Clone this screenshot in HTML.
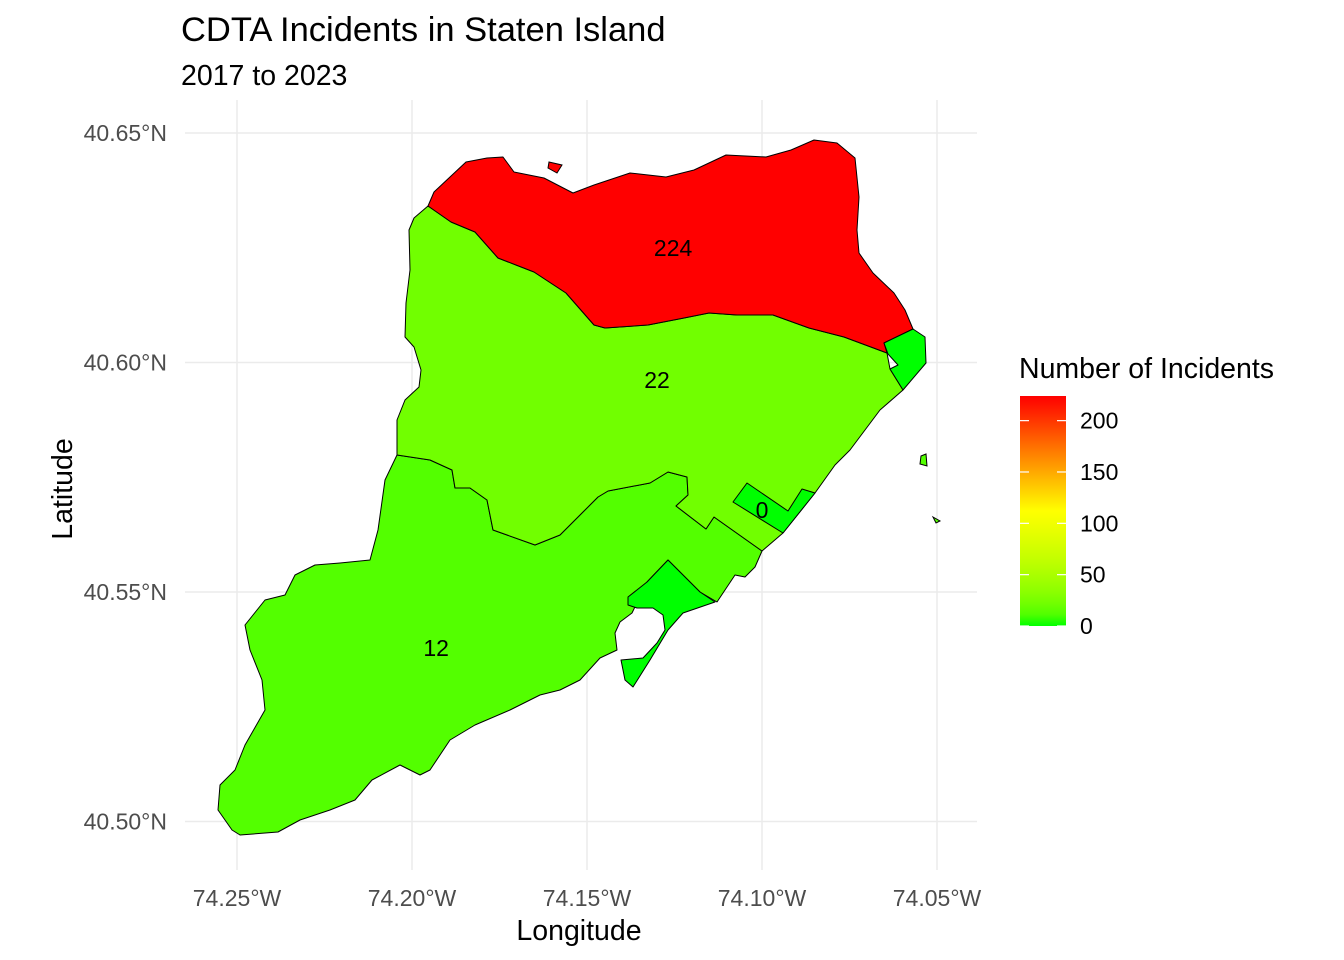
<!DOCTYPE html>
<html><head><meta charset="utf-8"><style>
body{margin:0;background:#fff;}
svg{display:block;font-family:"Liberation Sans",Arial,sans-serif;}
</style></head><body>
<svg id="chart" width="1344" height="960" viewBox="0 0 1344 960" xmlns="http://www.w3.org/2000/svg">
<text x="181" y="41" font-size="34.5" fill="#000">CDTA Incidents in Staten Island</text>
<text x="181" y="85" font-size="28.5" fill="#000">2017 to 2023</text>
<g id="grid"></g>
<g id="map"></g>
<g id="labels"></g>
<g id="axes"></g>
<text x="579" y="940" font-size="28.5" text-anchor="middle" fill="#000">Longitude</text>
<text transform="translate(72,489) rotate(-90)" font-size="28.5" text-anchor="middle" fill="#000">Latitude</text>
<g id="legend">
<defs><linearGradient id="lg" x1="0" y1="1" x2="0" y2="0"></linearGradient></defs>
<text x="1019" y="378" font-size="28.5" fill="#000">Number of Incidents</text>
</g>
</svg>
<script>
const lonTicks=[-74.25,-74.20,-74.15,-74.10,-74.05];
const lonLabels=["74.25°W","74.20°W","74.15°W","74.10°W","74.05°W"];
const latTicks=[40.65,40.60,40.55,40.50];
const latLabels=["40.65°N","40.60°N","40.55°N","40.50°N"];
const regionNames=["south-shore","mid-island","north-shore","great-kills","fort-wadsworth","midland-beach"];
const regionValues=[12,22,224,0,0,0];
const labelValues=[224,22,12,0];
const labelLon=[-74.1254,-74.130,-74.1931,-74.100];
const labelLat=[40.625,40.5962,40.5378,40.5679];
const legendTicks=[0,50,100,150,200];
const vmax=224, vmid=112;

const X=lon=>237+(lon+74.25)*3500;
const Y=lat=>133+(40.65-lat)*4590;
const LY=v=>626-v/vmax*230;
function color(v){
  let r,g;
  if(v<=vmid){r=255*Math.sqrt(v/vmid);g=255;}
  else{r=255;g=255*(1-(v-vmid)/(vmax-vmid));}
  return `rgb(${Math.round(r)},${Math.round(g)},0)`;
}
const NS="http://www.w3.org/2000/svg";
function mk(tag,attrs,parent){const e=document.createElementNS(NS,tag);for(const k in attrs)e.setAttribute(k,attrs[k]);parent.appendChild(e);return e;}

const shapes={
"south-shore":"397,455 385,480 378,530 370,560 340,563 315,565 295,575 285,595 265,600 245,625 250,650 262,680 265,710 245,745 235,770 220,785 218,810 232,830 240,835 278,832 300,820 330,810 355,800 372,780 400,765 420,775 430,770 450,740 475,725 510,710 540,695 560,690 580,680 600,658 617,650 615,633 620,622 632,613 647,582 668,560 700,592 717,602 735,575 745,577 755,567 762,551 714,517 706,529 676,506 688,495 687,477 668,472 650,483 608,491 598,497 580,515 560,535 535,545 493,530 487,500 470,488 455,488 452,470 430,460",
"mid-island":"428,206 451,222 475,232 498,258 516,265 534,272 566,293 594,325 605,328 648,325 684,318 709,313 737,315 773,315 809,328 844,337 887,353 890,369 903,390 880,410 865,430 850,450 835,465 815,493 783,533 762,551 714,517 706,529 676,506 688,495 687,477 668,472 650,483 608,491 598,497 580,515 560,535 535,545 493,530 487,500 470,488 455,488 452,470 430,460 397,455 397,420 405,400 419,387 421,370 414,347 405,337 406,303 410,270 409,230 414,218",
"north-shore":"428,206 434,192 466,162 487,158 503,157 514,172 544,178 573,193 594,185 630,173 666,177 694,170 726,155 766,157 791,150 814,140 837,143 855,158 859,197 857,230 859,253 873,273 894,293 905,310 913,329 884,343 887,353 844,337 809,328 773,315 737,315 709,313 684,318 648,325 605,328 594,325 566,293 534,272 516,265 498,258 475,232 451,222",
"great-kills":"647,582 668,560 700,592 715,602 683,613 668,630 650,660 633,687 625,680 621,660 643,658 657,643 665,630 663,615 653,608 637,608 628,605 628,597",
"fort-wadsworth":"884,343 913,329 925,337 926,363 903,390 890,369 898,365 888,354",
"midland-beach":"747,483 733,502 783,533 815,493 802,489 788,511"
};
const map=document.getElementById('map');
regionNames.forEach((n,i)=>{
  const p=mk('polygon',{points:shapes[n],fill:color(regionValues[i]),stroke:'#000','stroke-width':1,'stroke-linejoin':'round'},map);
  
  
});
const isl=mk('polygon',{points:"549,162 562,165 557,173 548,168",fill:color(224),stroke:'#000','stroke-width':1},map);


const isl2=mk('polygon',{points:"921,456 926,454 927,466 920,464",fill:color(12),stroke:'#000','stroke-width':1},map);


const isl3=mk('polygon',{points:"933,517 940,521 936,523",fill:color(12),stroke:'#000','stroke-width':1},map);



const grid=document.getElementById('grid'),axes=document.getElementById('axes');
lonTicks.forEach((t,i)=>{
  const l=mk('line',{x1:X(t),x2:X(t),y1:100,y2:870,stroke:'#ebebeb','stroke-width':1.5},grid);
  
  
  const tx=mk('text',{x:X(t),y:906,'font-size':23,fill:'#4d4d4d','text-anchor':'middle'},axes);
  tx.textContent=lonLabels[i];
  
  
});
latTicks.forEach((t,i)=>{
  const l=mk('line',{x1:185,x2:977,y1:Y(t),y2:Y(t),stroke:'#ebebeb','stroke-width':1.5},grid);
  
  
  const tx=mk('text',{x:167,y:Y(t)+8,'font-size':23,fill:'#4d4d4d','text-anchor':'end'},axes);
  tx.textContent=latLabels[i];
  
  
});
const lab=document.getElementById('labels');
labelValues.forEach((v,i)=>{
  const t=mk('text',{x:X(labelLon[i]),y:Y(labelLat[i])+8,'font-size':23,'text-anchor':'middle',fill:'#000'},lab);
  t.textContent=v;
  
  
});
const lg=document.getElementById('lg');
for(let s=0;s<=20;s++){const v=vmax*s/20;mk('stop',{offset:s/20,'stop-color':color(v)},lg);}
const leg=document.getElementById('legend');
const bar=mk('rect',{x:1020,y:396,width:46,height:230,fill:'url(#lg)'},leg);


legendTicks.forEach(v=>{
  const a=mk('line',{x1:1020,x2:1029,y1:LY(v),y2:LY(v),stroke:'#fff','stroke-width':1.2},leg);
  
  
  const b=mk('line',{x1:1057,x2:1066,y1:LY(v),y2:LY(v),stroke:'#fff','stroke-width':1.2},leg);
  
  
  const t=mk('text',{x:1080,y:LY(v)+8,'font-size':23,fill:'#000'},leg);
  t.textContent=v;
  
  
});
</script>
</body></html>
